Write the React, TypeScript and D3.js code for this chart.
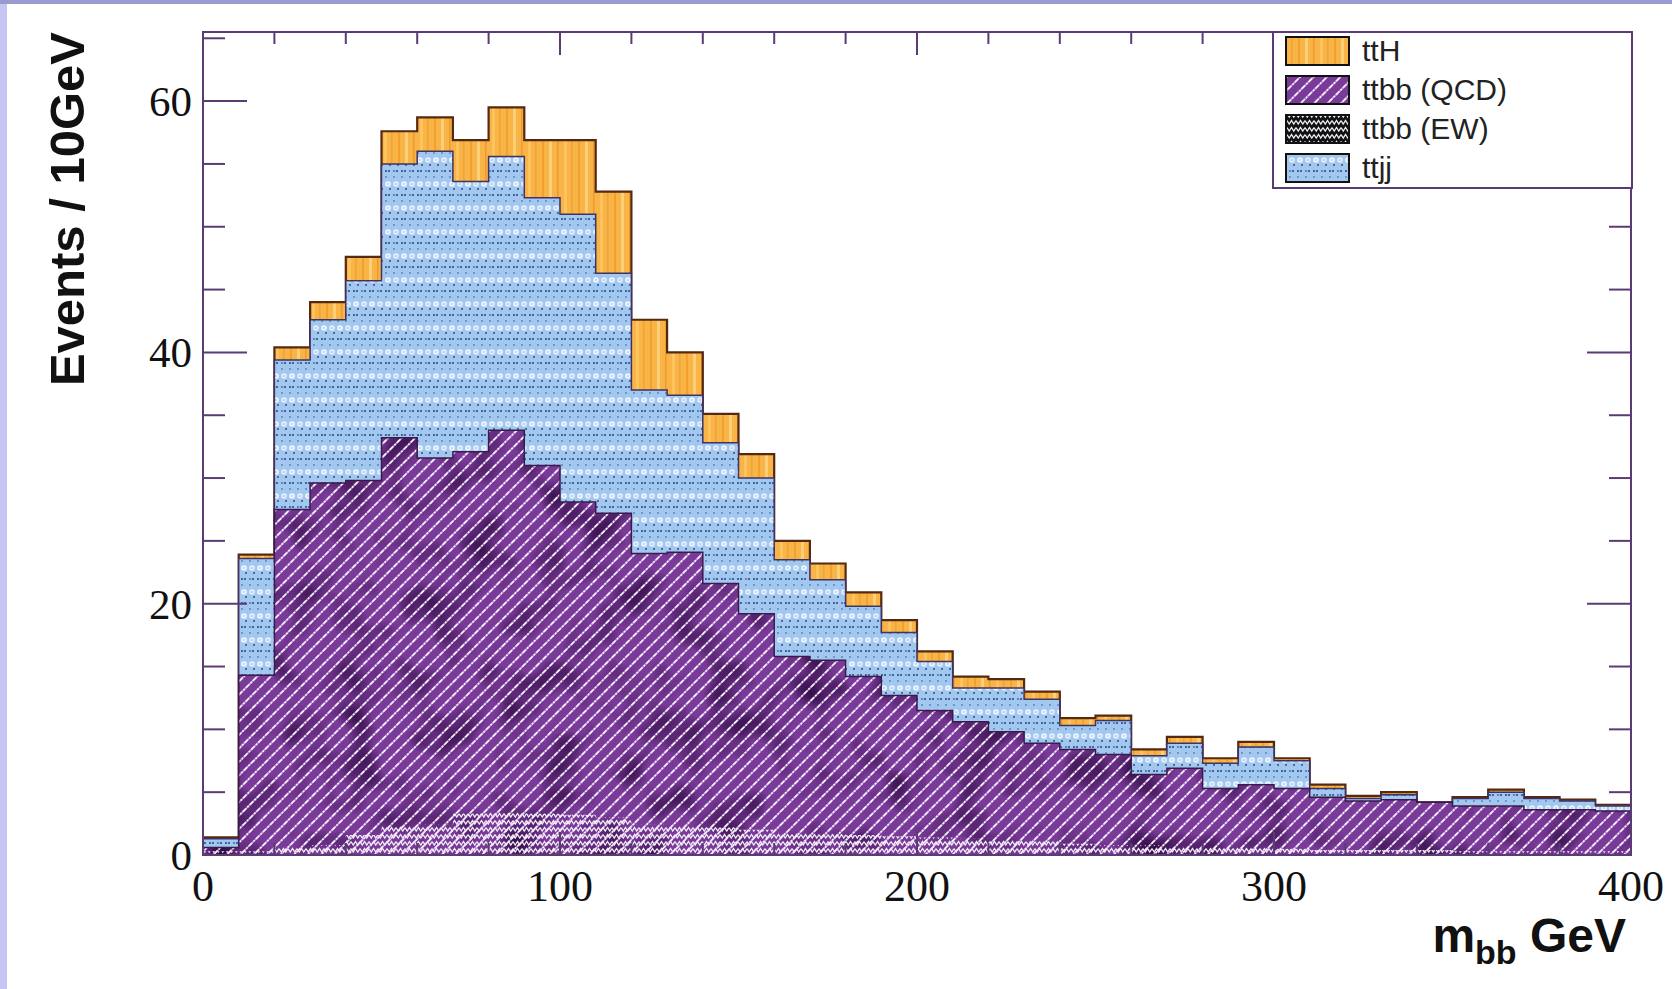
import React from 'react';
import * as d3 from 'd3';

// ---- data (events per 10 GeV bin) ----
const binEdges = d3.range(0, 410, 10); // 0..400 GeV, 40 bins
const ttbbEW = [0.3, 0.3, 0.7, 0.8, 1.6, 2.3, 2.4, 3.3, 3.4, 3.3, 3.2, 3.0, 2.4, 2.3, 2.2, 2.0, 1.8, 1.7, 1.6, 1.5, 1.4, 1.3, 1.2, 1.1, 0.9, 0.8, 0.8, 0.7, 0.6, 0.6, 0.5, 0.4, 0.4, 0.4, 0.4, 0.3, 0.3, 0.3, 0.3, 0.3];
const ttbbQCD = [0.3, 14.0, 26.8, 28.8, 28.2, 30.9, 29.2, 28.8, 30.4, 27.7, 24.9, 24.2, 21.6, 21.8, 19.4, 17.2, 14.0, 13.8, 12.6, 11.2, 10.1, 9.3, 8.6, 7.8, 7.5, 7.2, 5.6, 6.2, 4.7, 5.0, 4.8, 4.2, 3.9, 4.0, 3.8, 3.6, 3.6, 3.3, 3.3, 3.2];
const ttjj = [0.7, 9.3, 11.9, 13.0, 15.9, 21.8, 24.4, 21.5, 21.8, 21.3, 22.9, 19.1, 13.0, 12.5, 11.2, 10.8, 7.7, 6.4, 5.6, 5.0, 3.9, 2.7, 3.5, 3.5, 1.9, 2.7, 1.5, 2.0, 2.0, 3.0, 2.2, 0.7, 0.2, 0.4, 0.0, 0.6, 1.1, 0.9, 0.7, 0.4];
const ttH = [0.1, 0.3, 1.0, 1.4, 1.9, 2.6, 2.7, 3.3, 3.9, 4.6, 5.9, 6.5, 5.6, 3.4, 2.3, 1.9, 1.5, 1.3, 1.1, 1.0, 0.8, 0.9, 0.7, 0.6, 0.6, 0.4, 0.5, 0.5, 0.4, 0.4, 0.2, 0.3, 0.2, 0.2, 0.0, 0.1, 0.2, 0.1, 0.1, 0.1];

const xMajorTicks = [0, 100, 200, 300, 400];
const xMinorTicks = d3.range(0, 401, 20);
const yMajorTicks = [0, 20, 40, 60];
const yMinorTicks = d3.range(0, 66, 5);
const legendLabels = ['ttH', 'ttbb (QCD)', 'ttbb (EW)', 'ttjj'];
const legendFills = ['url(#wood)', 'purple', 'ew', 'url(#dots)'];

const W = 1672;
const H = 989;
const L = 203, R = 1631, T = 32, B = 855;
const frameColor = '#5b3b73';

export default function App() {
  const x = d3.scaleLinear().domain([0, 400]).range([L, R]);
  const y = d3.scaleLinear().domain([0, 65.5]).range([B, T]);

  const rows = binEdges.slice(0, -1).map((lo, i) => ({
    lo,
    ew: ttbbEW[i],
    qcd: ttbbQCD[i],
    ttjj: ttjj[i],
    tth: ttH[i],
  }));
  const stacked = d3.stack<any>().keys(['ew', 'qcd', 'ttjj', 'tth'])(rows);

  const pts = (k: number): [number, number][] => {
    const t = stacked[k].map((s, i) => [rows[i].lo, s[1]] as [number, number]);
    return [...t, [400, t[t.length - 1][1]]];
  };
  const area = d3
    .area<[number, number]>()
    .x((d) => x(d[0]))
    .y0(y(0))
    .y1((d) => y(d[1]))
    .curve(d3.curveStepAfter);
  const line = d3
    .line<[number, number]>()
    .x((d) => x(d[0]))
    .y((d) => y(d[1]))
    .curve(d3.curveStepAfter);
  const outline = (k: number) => line([[0, 0], ...pts(k), [400, 0]]) as string;
  const fillPath = (k: number) => area(pts(k)) as string;

  const legendRowY = (i: number) => 51 + i * 39;

  return (
    <svg
      width={W}
      height={H}
      viewBox={`0 0 ${W} ${H}`}
      style={{ position: 'absolute', left: 0, top: 0, background: '#fff' }}
    >
      <defs>
        <clipPath id="frameClip">
          <rect x={L} y={T} width={R - L} height={B - T} />
        </clipPath>
        <pattern id="wood" patternUnits="userSpaceOnUse" width="36" height="60">
          <rect width="36" height="60" fill="#f9b447" />
          <rect x="2" width="2" height="60" fill="#f2a02e" />
          <rect x="9" width="3" height="60" fill="#ffcf78" />
          <rect x="17" width="1.5" height="60" fill="#ee992a" />
          <rect x="24" width="3" height="60" fill="#fcc35f" />
          <rect x="31" width="1.5" height="60" fill="#f0a335" />
        </pattern>
        <pattern id="dots" patternUnits="userSpaceOnUse" width="16" height="24">
          <rect width="16" height="24" fill="#a3c8f0" />
          <circle cx="2" cy="3" r="1.1" fill="#2a4f8a" />
          <circle cx="5" cy="3" r="1.1" fill="#2a4f8a" />
          <circle cx="10" cy="3" r="1.1" fill="#4a73ad" />
          <circle cx="13" cy="3" r="1.1" fill="#2a4f8a" />
          <circle cx="2" cy="9" r="1" fill="#5a84c0" />
          <circle cx="10" cy="9" r="1" fill="#5a84c0" />
          <circle cx="4" cy="16" r="2.8" fill="#f1f7fe" />
          <circle cx="12" cy="16" r="2.8" fill="#e4eefb" />
          <circle cx="4" cy="16" r="0.9" fill="#a3c8f0" />
          <circle cx="12" cy="16" r="0.9" fill="#a3c8f0" />
          <circle cx="6" cy="21" r="1" fill="#2a4f8a" />
          <circle cx="14" cy="21" r="1" fill="#2a4f8a" />
        </pattern>
        <pattern id="hatch" patternUnits="userSpaceOnUse" width="10" height="9.5" patternTransform="rotate(-45)">
          <line x1="0" y1="4.75" x2="10" y2="4.75" stroke="#f6eefa" strokeWidth="1.7" strokeDasharray="2.8 0.8" />
        </pattern>
        <pattern id="ewPat" patternUnits="userSpaceOnUse" width="9" height="7">
          <path d="M0 1.5 L2.25 5 L4.5 1.5 L6.75 5 L9 1.5" stroke="#f2ecf7" strokeWidth="1.3" fill="none" />
        </pattern>
        <filter
          id="mottle"
          filterUnits="userSpaceOnUse"
          x={L}
          y={T}
          width={R - L}
          height={B - T}
          colorInterpolationFilters="sRGB"
        >
          <feTurbulence type="fractalNoise" baseFrequency="0.024" numOctaves="2" seed="7" result="n" />
          <feColorMatrix
            in="n"
            type="matrix"
            values="0 0 0 0 0.2  0 0 0 0 0.05  0 0 0 0 0.28  2.6 0 0 0 -1.2"
            result="m"
          />
          <feComposite in="m" in2="SourceAlpha" operator="in" />
        </filter>
      </defs>

      {/* page border strips */}
      <rect x={0} y={0} width={7} height={H} fill="#c6c6f4" />
      <rect x={0} y={0} width={W} height={4} fill="#9a9ad0" />

      {/* stacked histograms, drawn top-down like THStack */}
      <g clipPath="url(#frameClip)">
        <path d={fillPath(3)} fill="url(#wood)" />
        <path d={outline(3)} fill="none" stroke="#55290f" strokeWidth={2.2} />
        <path d={fillPath(2)} fill="url(#dots)" />
        <path d={outline(2)} fill="none" stroke="#3e3266" strokeWidth={1.5} />
        <path d={fillPath(1)} fill="#7a3a99" />
        <path d={fillPath(1)} fill="#000" filter="url(#mottle)" />
        <path d={fillPath(1)} fill="url(#hatch)" />
        <path d={outline(1)} fill="none" stroke="#3a1a4b" strokeWidth={1.5} />
        <path d={fillPath(0)} fill="url(#ewPat)" />
      </g>

      {/* frame */}
      <rect x={L} y={T} width={R - L} height={B - T} fill="none" stroke={frameColor} strokeWidth={2} />

      {/* y ticks */}
      {yMinorTicks.map((v) => {
        const len = yMajorTicks.includes(v) ? 44 : 22;
        return (
          <g key={'y' + v} stroke={frameColor} strokeWidth={2}>
            <line x1={L} x2={L + len} y1={y(v)} y2={y(v)} />
            <line x1={R} x2={R - len} y1={y(v)} y2={y(v)} />
          </g>
        );
      })}
      {/* x ticks */}
      {xMinorTicks.map((v) => {
        const len = xMajorTicks.includes(v) ? 23 : 12;
        return (
          <g key={'x' + v} stroke={frameColor} strokeWidth={2}>
            <line x1={x(v)} x2={x(v)} y1={T} y2={T + len} />
            <line x1={x(v)} x2={x(v)} y1={B} y2={B - len} />
          </g>
        );
      })}

      {/* tick labels */}
      <g fontFamily="'Liberation Serif', 'DejaVu Serif', serif" fill="#111">
        {yMajorTicks.map((v) => (
          <text key={'yl' + v} x={L - 11} y={y(v) + 15} textAnchor="end" fontSize={43}>
            {v}
          </text>
        ))}
        {xMajorTicks.map((v) => (
          <text key={'xl' + v} x={x(v)} y={901} textAnchor="middle" fontSize={44}>
            {v}
          </text>
        ))}
      </g>

      {/* axis titles */}
      <text
        transform={`translate(84, ${T}) rotate(-90)`}
        textAnchor="end"
        fontFamily="'Liberation Sans', Arial, sans-serif"
        fontWeight="bold"
        fontSize={49}
        fill="#111"
      >
        Events / 10GeV
      </text>
      <text
        x={1626}
        y={952}
        textAnchor="end"
        fontFamily="'Liberation Sans', Arial, sans-serif"
        fontWeight="bold"
        fontSize={48}
        fill="#111"
      >
        <tspan>m</tspan>
        <tspan fontSize={34} dy={12}>bb</tspan>
        <tspan dy={-12}> GeV</tspan>
      </text>

      {/* legend */}
      <rect x={1273} y={T} width={359} height={156} fill="#fff" stroke={frameColor} strokeWidth={2} />
      {legendLabels.map((lab, i) => {
        const cy = legendRowY(i);
        const sx = 1286, sw = 63, sh = 28;
        const f = legendFills[i];
        return (
          <g key={lab}>
            {f === 'purple' ? (
              <>
                <rect x={sx} y={cy - sh / 2} width={sw} height={sh} fill="#7a3a99" />
                <rect x={sx} y={cy - sh / 2} width={sw} height={sh} fill="url(#hatch)" />
              </>
            ) : f === 'ew' ? (
              <>
                <rect x={sx} y={cy - sh / 2} width={sw} height={sh} fill="#111" />
                <rect x={sx} y={cy - sh / 2} width={sw} height={sh} fill="url(#ewPat)" />
              </>
            ) : (
              <rect x={sx} y={cy - sh / 2} width={sw} height={sh} fill={f} />
            )}
            <rect x={sx} y={cy - sh / 2} width={sw} height={sh} fill="none" stroke="#111" strokeWidth={2} />
            <text
              x={1362}
              y={cy + 10}
              fontFamily="'Liberation Sans', Arial, sans-serif"
              fontSize={30}
              fill="#222"
            >
              {lab}
            </text>
          </g>
        );
      })}
    </svg>
  );
}
